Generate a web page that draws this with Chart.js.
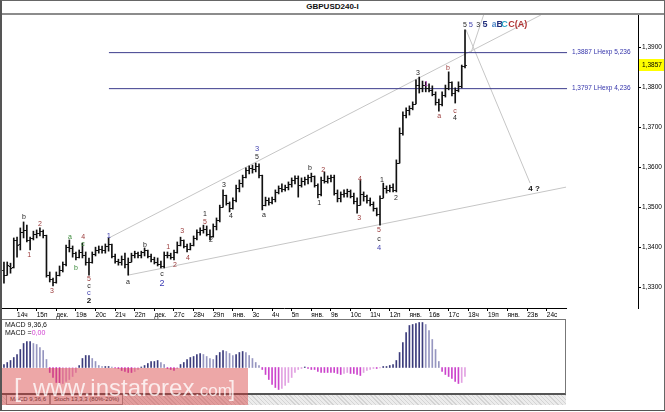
<!DOCTYPE html>
<html><head><meta charset="utf-8">
<script src="https://cdn.jsdelivr.net/npm/chart.js@4.4.1/dist/chart.umd.min.js"></script>
<style>
html,body{margin:0;padding:0;background:#fff;width:665px;height:412px;overflow:hidden;font-family:"Liberation Sans",Arial,sans-serif;}
#wrap{position:relative;width:665px;height:412px;background:#fff;}
#frame{position:absolute;left:0;top:0;width:662px;height:409px;border-left:2px solid #555;border-top:1px solid #666;border-right:1px solid #666;border-bottom:1px solid #555;pointer-events:none;z-index:9;}
#titleLine{position:absolute;left:0;top:13px;width:665px;height:2px;background:#8c8c8c;}
#title{position:absolute;left:0;top:1px;width:665px;text-align:center;font-weight:bold;font-size:8px;line-height:12px;color:#111;}
#main{position:absolute;left:0;top:0;}
#macd{position:absolute;left:0;top:319px;}
#macdBox{position:absolute;left:2px;top:319px;width:563px;height:73px;border-top:1px solid #777;border-right:1px solid #777;border-bottom:2px solid #555;}
#macdT1{position:absolute;left:5px;top:321px;font-size:7px;color:#111;line-height:8px;}
#macdT2{position:absolute;left:5px;top:329px;font-size:7px;color:#111;line-height:8px;}
#macdT2 span{color:#d040d0;}
#strip{position:absolute;left:2px;top:395px;width:564px;height:10px;background:repeating-linear-gradient(45deg,#d4d4d4 0 1px,#ececec 1px 3px);}
.tab{position:absolute;top:395px;height:9px;font-size:6px;line-height:9px;color:#333;background:#f4f4f4;border:1px solid #999;border-top:none;padding:0 3px;}
#wm{position:absolute;left:0;top:368px;width:248px;height:37px;background:rgba(215,60,60,0.45);z-index:5;overflow:hidden;}
#wm span{position:absolute;color:rgba(255,255,255,0.78);white-space:nowrap;}
</style></head><body>
<div id="wrap">
  <div id="title">GBPUSD240-I</div>
  <div id="titleLine"></div>
  <canvas id="main" width="665" height="322"></canvas>
  <div id="macdBox"></div>
  <canvas id="macd" width="567" height="75"></canvas>
  <div id="macdT1">MACD 9,36,6</div>
  <div id="macdT2">MACD =<span>0,00</span></div>
  <div id="strip"></div>
  <div class="tab" style="left:6px;">MACD 9,36,6</div>
  <div class="tab" style="left:50px;">Stoch 13,3,3 (80%-20%)</div>
  <div id="wm">
    <span style="left:14px;top:5px;font-size:26px;line-height:30px;">[</span>
    <span style="left:33px;top:5px;font-size:24px;line-height:30px;">www.instaforex</span>
    <span style="left:195px;top:11px;font-size:17px;line-height:24px;">.com</span>
    <span style="left:229px;top:7px;font-size:22px;line-height:28px;">]</span>
  </div>
  <div id="frame"></div>
</div>
<script>
// ---------- data ----------
const firstBar = -4;            // index of the first H4 bar relative to 14 Dec 00:00
const barsPerDay = 6;
const dayLabels = ['14ч','15п','дек.','19в','20с','21ч','22п','дек.','27с','28ч','29п','янв.','3с','4ч','5п','янв.','9в','10с','11ч','12п','янв.','16в','17с','18ч','19п','янв.','23в','24с'];
const priceTicks = [1.33,1.34,1.35,1.36,1.37,1.38,1.39];

const openP = [
1.3344,1.3331,1.3354,1.3351,1.3419,1.3409,1.3439,1.3444,1.3419,1.3424,
1.3434,1.3436,1.3441,1.3431,1.3331,1.3321,1.3314,1.3331,1.3344,1.3359,
1.3401,1.3399,1.3386,1.3376,1.3389,1.3381,1.3364,1.3364,1.3384,1.3394,
1.3396,1.3394,1.3404,1.3409,1.3379,1.3366,1.3364,1.3371,1.3359,1.3364,
1.3381,1.3386,1.3381,1.3389,1.3394,1.3379,1.3371,1.3364,1.3359,1.3354,
1.3381,1.3381,1.3376,1.3389,1.3406,1.3419,1.3404,1.3396,1.3406,1.3424,
1.3439,1.3444,1.3446,1.3434,1.3429,1.3454,1.3469,1.3501,1.3531,1.3511,
1.3499,1.3519,1.3549,1.3561,1.3576,1.3594,1.3599,1.3596,1.3604,1.3581,
1.3506,1.3519,1.3514,1.3521,1.3539,1.3549,1.3546,1.3551,1.3559,1.3569,
1.3574,1.3556,1.3566,1.3571,1.3576,1.3579,1.3556,1.3534,1.3569,1.3566,
1.3574,1.3576,1.3536,1.3524,1.3534,1.3536,1.3541,1.3529,1.3516,1.3506,
1.3534,1.3529,1.3519,1.3509,1.3499,1.3484,1.3524,1.3549,1.3544,1.3551,
1.3544,1.3611,1.3686,1.3731,1.3744,1.3749,1.3759,1.3806,1.3799,1.3806,
1.3799,1.3794,1.3784,1.3764,1.3759,1.3781,1.3799,1.3814,1.3786,1.3794,
1.3804,1.3854];
const highP = [
1.3364,1.3364,1.3361,1.3424,1.3426,1.3449,1.3464,1.3456,1.3426,1.3441,
1.3444,1.3449,1.3444,1.3431,1.3339,1.3324,1.3339,1.3354,1.3364,1.3406,
1.3419,1.3404,1.3389,1.3394,1.3411,1.3389,1.3374,1.3389,1.3401,1.3404,
1.3404,1.3409,1.3424,1.3409,1.3384,1.3371,1.3379,1.3386,1.3374,1.3386,
1.3391,1.3389,1.3391,1.3399,1.3394,1.3384,1.3376,1.3374,1.3366,1.3389,
1.3389,1.3386,1.3394,1.3414,1.3426,1.3419,1.3409,1.3411,1.3429,1.3444,
1.3449,1.3456,1.3454,1.3444,1.3459,1.3474,1.3506,1.3544,1.3531,1.3514,
1.3524,1.3556,1.3569,1.3581,1.3599,1.3604,1.3606,1.3611,1.3609,1.3581,
1.3526,1.3524,1.3526,1.3544,1.3554,1.3559,1.3556,1.3564,1.3574,1.3579,
1.3579,1.3574,1.3576,1.3581,1.3586,1.3579,1.3559,1.3576,1.3589,1.3579,
1.3581,1.3581,1.3544,1.3539,1.3544,1.3546,1.3544,1.3536,1.3524,1.3569,
1.3539,1.3531,1.3524,1.3514,1.3499,1.3529,1.3561,1.3554,1.3556,1.3559,
1.3619,1.3699,1.3739,1.3749,1.3754,1.3764,1.3819,1.3826,1.3816,1.3814,
1.3809,1.3804,1.3789,1.3771,1.3789,1.3806,1.3839,1.3814,1.3799,1.3814,
1.3856,1.3944];
const lowP = [
1.3311,1.3331,1.3336,1.3349,1.3376,1.3394,1.3424,1.3414,1.3394,1.3419,
1.3424,1.3429,1.3424,1.3326,1.3314,1.3304,1.3311,1.3329,1.3339,1.3354,
1.3389,1.3376,1.3369,1.3374,1.3374,1.3356,1.3331,1.3361,1.3379,1.3386,
1.3386,1.3386,1.3391,1.3374,1.3361,1.3356,1.3356,1.3349,1.3331,1.3364,
1.3374,1.3374,1.3374,1.3379,1.3374,1.3364,1.3359,1.3354,1.3349,1.3349,
1.3374,1.3371,1.3369,1.3386,1.3404,1.3399,1.3389,1.3394,1.3404,1.3419,
1.3431,1.3436,1.3429,1.3419,1.3426,1.3444,1.3464,1.3501,1.3506,1.3489,
1.3496,1.3514,1.3539,1.3551,1.3574,1.3584,1.3586,1.3589,1.3574,1.3494,
1.3504,1.3506,1.3509,1.3514,1.3534,1.3539,1.3541,1.3544,1.3551,1.3559,
1.3526,1.3551,1.3556,1.3559,1.3564,1.3551,1.3524,1.3529,1.3561,1.3561,
1.3564,1.3531,1.3514,1.3514,1.3526,1.3526,1.3524,1.3509,1.3486,1.3506,
1.3516,1.3511,1.3504,1.3491,1.3479,1.3456,1.3524,1.3536,1.3539,1.3539,
1.3539,1.3611,1.3681,1.3724,1.3731,1.3744,1.3759,1.3786,1.3789,1.3789,
1.3789,1.3779,1.3756,1.3741,1.3754,1.3776,1.3794,1.3779,1.3761,1.3789,
1.3799,1.3849];
const closeP = [
1.3331,1.3356,1.3349,1.3419,1.3406,1.3439,1.3444,1.3419,1.3424,1.3434,
1.3436,1.3441,1.3431,1.3331,1.3321,1.3314,1.3331,1.3344,1.3359,1.3401,
1.3399,1.3386,1.3376,1.3389,1.3381,1.3364,1.3364,1.3384,1.3394,1.3396,
1.3394,1.3404,1.3409,1.3379,1.3366,1.3364,1.3371,1.3359,1.3364,1.3381,
1.3386,1.3381,1.3389,1.3394,1.3379,1.3371,1.3364,1.3359,1.3354,1.3381,
1.3381,1.3376,1.3389,1.3406,1.3419,1.3404,1.3396,1.3406,1.3424,1.3439,
1.3444,1.3446,1.3434,1.3429,1.3454,1.3469,1.3501,1.3531,1.3511,1.3499,
1.3519,1.3549,1.3561,1.3576,1.3594,1.3599,1.3596,1.3604,1.3581,1.3506,
1.3519,1.3514,1.3521,1.3539,1.3549,1.3546,1.3551,1.3559,1.3569,1.3574,
1.3556,1.3566,1.3571,1.3576,1.3579,1.3556,1.3534,1.3569,1.3566,1.3574,
1.3576,1.3536,1.3524,1.3534,1.3536,1.3541,1.3529,1.3516,1.3506,1.3534,
1.3529,1.3519,1.3509,1.3499,1.3484,1.3524,1.3549,1.3544,1.3551,1.3544,
1.3611,1.3686,1.3731,1.3744,1.3749,1.3759,1.3806,1.3799,1.3806,1.3799,
1.3794,1.3784,1.3764,1.3759,1.3781,1.3799,1.3814,1.3786,1.3794,1.3804,
1.3854,1.3857];

const macdHist = [
0.0003,0.0005,0.0007,0.0010,0.0013,0.0018,0.0024,0.0026,0.0026,0.0024,
0.0023,0.0020,0.0017,0.0008,-0.0005,-0.0010,-0.0015,-0.0017,-0.0016,-0.0014,
-0.0012,-0.0009,-0.0005,0.0002,0.0009,0.0012,0.0012,0.0009,0.0006,0.0002,
0.0001,0.0001,0.0001,0.00005,-0.00005,-0.0001,-0.0003,-0.0004,-0.0005,-0.0005,
-0.0004,-0.0002,0.00005,0.0002,0.0004,0.0006,0.0006,0.0007,0.0005,0.0003,
-0.0001,-0.0002,-0.0003,-0.0001,0.0003,0.0005,0.0008,0.0010,0.0011,0.0013,
0.0014,0.0013,0.0011,0.0009,0.0008,0.0012,0.0015,0.0017,0.0016,0.0014,
0.0012,0.0013,0.0015,0.0016,0.0015,0.0012,0.0009,0.0005,0.0002,-0.0002,
-0.0007,-0.0012,-0.0017,-0.0020,-0.0022,-0.0021,-0.0018,-0.0015,-0.0010,-0.0005,
-0.0002,-0.0001,0.00005,-0.0001,-0.0002,-0.0002,-0.0004,-0.0005,-0.0005,-0.0005,
-0.0005,-0.0005,-0.0006,-0.0007,-0.0006,-0.0005,-0.0006,-0.0006,-0.0007,-0.0008,
-0.0005,-0.0003,-0.0002,-0.0001,-0.0001,-0.00005,0.0001,0.0001,0.0002,0.0003,
0.0007,0.0015,0.0025,0.0035,0.0042,0.0043,0.0044,0.0045,0.0045,0.0043,
0.0037,0.0028,0.0018,0.0006,-0.0004,-0.0007,-0.0009,-0.0011,-0.0014,-0.0016,
-0.0015,-0.0009];

// target levels (price) and their captions
const levelPrices = [1.3887, 1.3797];
const levelTexts  = ['1,3887 LHexp 5,236', '1,3797 LHexp 4,236'];
const levelFrom = 28.1, levelTo = 168.2;

// trend lines: [barFrom, priceFrom, barTo, priceTo]
const trendLines = [
  [28.1, 1.3424, 160.2, 1.3981],
  [33.9, 1.3331, 167.9, 1.3551],
  [137.3, 1.3944, 156.9, 1.3561],
  [138.8, 1.3886, 142.8, 1.3984]
];

// wave labels: [bar, price, text, style]
const waveLabels = [
  [2.1,1.3476,'b','blk'],[3.7,1.3381,'1','brn'],[7.0,1.3459,'2','brn'],[10.7,1.3291,'3','brn'],
  [16.2,1.3426,'a','grn'],[18.0,1.3349,'b','grn'],[20.2,1.3426,'4','brn'],[20.2,1.3409,'c','grn'],
  [22.0,1.3321,'5','brn'],[22.0,1.3304,'c','blk'],[22.0,1.3286,'c','blu'],[22.0,1.3266,'2','blkB'],
  [28.1,1.3429,'1','blu'],[33.9,1.3314,'a','blk'],[39.1,1.3406,'b','blk'],[44.3,1.3334,'c','blk'],
  [44.3,1.3311,'2','bluL'],[46.2,1.3401,'1','brn'],[48.3,1.3356,'2','brn'],[50.5,1.3441,'3','brn'],
  [52.3,1.3374,'4','brn'],[57.5,1.3484,'1','blk'],[57.5,1.3464,'5','brn'],[59.3,1.3419,'2','blk'],
  [63.3,1.3556,'3','blk'],[65.4,1.3479,'4','blk'],[73.4,1.3646,'3','blu'],[73.4,1.3626,'5','blk'],
  [75.5,1.3481,'a','blk'],[89.6,1.3599,'b','blk'],[93.6,1.3594,'2','brn'],[92.4,1.3511,'1','blk'],
  [104.9,1.3571,'4','brn'],[104.6,1.3474,'3','brn'],[111.6,1.3569,'1','blk'],[115.9,1.3524,'2','blk'],
  [110.7,1.3444,'5','brn'],[110.7,1.3421,'c','blk'],[110.7,1.3399,'4','blu'],
  [122.6,1.3836,'3','blk'],[125.1,1.3809,'1','pur'],[129.1,1.3729,'a','brn'],[131.8,1.3849,'b','brn'],
  [133.9,1.3741,'c','brn'],[133.9,1.3724,'4','blk'],
  [137.0,1.3957,'5','blk'],[138.8,1.3956,'5','blu'],[141.0,1.3956,'3','blk'],[143.1,1.3956,'5','navyB'],
  [145.9,1.3956,'a','lblB'],[147.6,1.3956,'B','navyB'],[149.1,1.3956,'C','cyanB'],[153.1,1.3956,'C(A)','redB'],
  [158.1,1.3546,'4 ?','blkB']
];

// ---------- styles ----------
const labelStyles = {
  blk:{c:'#1e1e1e',s:7,w:'normal'}, brn:{c:'#9a3a3a',s:7,w:'normal'}, grn:{c:'#3a8a3a',s:7,w:'normal'},
  blu:{c:'#4444b0',s:7.5,w:'normal'}, bluL:{c:'#3a3ab4',s:9,w:'normal'}, pur:{c:'#c03cc8',s:7.5,w:'normal'},
  blkB:{c:'#111111',s:8,w:'bold'}, navyB:{c:'#22307c',s:9,w:'bold'}, lblB:{c:'#4a86c8',s:8.5,w:'bold'},
  cyanB:{c:'#2fa6c8',s:9,w:'bold'}, redB:{c:'#b03434',s:9,w:'bold'}
};
const FONT = '"Liberation Sans", Arial, sans-serif';
const xMin = -4.6, xMaxMain = 189.9, xMaxMacd = 167.9, dateAxisEnd = 168.2, levelTextAt = 169.7;

const fmt = v => v.toFixed(4).replace('.', ',');

const ohlcTicks = {
  id:'ohlcTicks',
  afterDatasetsDraw(chart){
    const {ctx, scales:{x, y}} = chart;
    ctx.save();
    ctx.strokeStyle = '#111'; ctx.lineWidth = 1;
    ctx.beginPath();
    for (let i = 0; i < openP.length; i++){
      const px = x.getPixelForValue(firstBar + i);
      const yo = Math.round(y.getPixelForValue(openP[i])) + 0.5;
      const yc = Math.round(y.getPixelForValue(closeP[i])) + 0.5;
      ctx.moveTo(px - 1.8, yo); ctx.lineTo(px, yo);
      ctx.moveTo(px, yc); ctx.lineTo(px + 1.8, yc);
    }
    ctx.stroke();
    ctx.restore();
  }
};

const annotations = {
  id:'annotations',
  afterDraw(chart){
    const {ctx, chartArea:a, scales:{x, y}} = chart;
    ctx.save();
    ctx.strokeStyle = '#000'; ctx.lineWidth = 1;
    ctx.beginPath();
    ctx.moveTo(a.left, a.bottom + 0.5); ctx.lineTo(x.getPixelForValue(dateAxisEnd), a.bottom + 0.5);
    ctx.stroke();
    ctx.textAlign = 'center'; ctx.textBaseline = 'middle';
    waveLabels.forEach(([k, p, t, st]) => {
      const s = labelStyles[st];
      ctx.font = `${s.w} ${s.s}px ${FONT}`;
      ctx.fillStyle = s.c;
      ctx.fillText(t, x.getPixelForValue(k), y.getPixelForValue(p));
    });
    ctx.textAlign = 'left';
    ctx.font = `6.5px ${FONT}`;
    ctx.fillStyle = '#3333aa';
    levelPrices.forEach((p, i) => {
      ctx.fillText(levelTexts[i], x.getPixelForValue(levelTextAt), y.getPixelForValue(p));
    });
    const last = closeP[closeP.length - 1];
    const py = Math.round(y.getPixelForValue(last));
    ctx.fillStyle = '#ffff00';
    ctx.fillRect(a.right + 1, py - 6, chart.width - a.right - 1, 12);
    ctx.fillStyle = '#000';
    ctx.font = `6.5px ${FONT}`;
    ctx.fillText(fmt(last), a.right + 4, py + 0.5);
    ctx.restore();
  }
};

const lineSets = trendLines.map(t => ({
  type:'line', data:[{x:t[0], y:t[1]}, {x:t[2], y:t[3]}],
  borderColor:'#c6c6c6', borderWidth:1, pointRadius:0, order:3
}));
const levelSets = levelPrices.map(p => ({
  type:'line', data:[{x:levelFrom, y:p}, {x:levelTo, y:p}],
  borderColor:'#3c3c8c', borderWidth:1, pointRadius:0, order:2
}));

new Chart(document.getElementById('main'), {
  type:'bar',
  data:{ datasets:[
    { type:'bar', data: highP.map((h, i) => ({x: firstBar + i, y:[lowP[i], h]})),
      backgroundColor:'#111', borderWidth:0, barThickness:1, order:1 },
    ...lineSets, ...levelSets
  ]},
  options:{
    responsive:false, animation:false,
    layout:{padding:{left:2, top:15, right:0, bottom:0}},
    plugins:{legend:{display:false}, tooltip:{enabled:false}},
    scales:{
      x:{ type:'linear', min:xMin, max:xMaxMain, offset:false,
          afterBuildTicks: s => { s.ticks = dayLabels.map((t, i) => ({value: i * barsPerDay})); },
          afterFit: s => { s.height = 14; },
          ticks:{ callback: v => dayLabels[Math.round(v / barsPerDay)], align:'start', maxRotation:0, minRotation:0,
                  autoSkip:false, font:{family:FONT, size:6.5}, color:'#000', padding:0 },
          grid:{ drawOnChartArea:false, tickLength:3, color:'#000', offset:false },
          border:{ display:false } },
      y:{ position:'right', min:1.3249, max:1.3981,
          afterBuildTicks: s => { s.ticks = priceTicks.map(v => ({value:v})); },
          afterFit: s => { s.width = 27; },
          ticks:{ callback: v => fmt(v), font:{family:FONT, size:6.5}, color:'#000', padding:1, autoSkip:false },
          grid:{ drawOnChartArea:false, tickLength:3, color:'#000' },
          border:{ display:true, color:'#000', width:1 } }
    }
  },
  plugins:[ohlcTicks, annotations]
});

new Chart(document.getElementById('macd'), {
  type:'bar',
  data:{ datasets:[{
    data: macdHist.map((v, i) => ({x: firstBar + i, y: v})),
    backgroundColor: c => {
      const i = c.dataIndex, v = macdHist[i], p = i > 0 ? macdHist[i - 1] : 0;
      if (v >= 0) return v >= p ? '#3c3c7c' : '#9696c0';
      return v <= p ? '#cc44cc' : '#e2a2e2';
    },
    borderWidth:0, barThickness:1
  }]},
  options:{
    responsive:false, animation:false,
    layout:{padding:{left:2, right:1, top:0, bottom:0}},
    plugins:{legend:{display:false}, tooltip:{enabled:false}},
    scales:{
      x:{ type:'linear', display:false, min:xMin, max:xMaxMacd, offset:false },
      y:{ display:false, min:-0.00265, max:0.00485 }
    }
  }
});
</script>
</body></html>
